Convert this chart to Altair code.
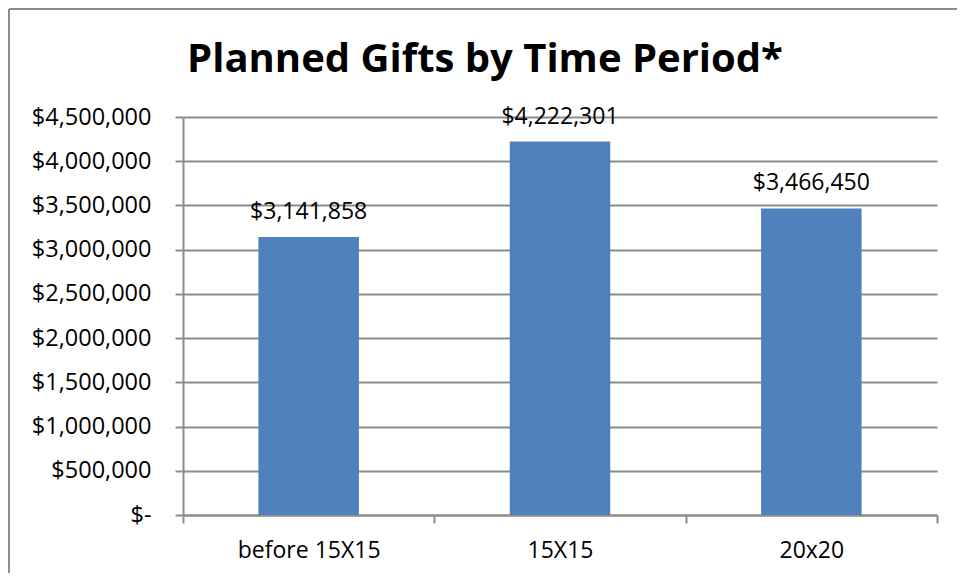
import altair as alt
import pandas as pd

categories = ["before 15X15", "15X15", "20x20"]
values = [3141858, 4222301, 3466450]
y_ticks = [0, 500000, 1000000, 1500000, 2000000, 2500000, 3000000, 3500000, 4000000, 4500000]
title_text = "Planned Gifts by Time Period*"

df = pd.DataFrame({"period": categories, "amount": values})
one = pd.DataFrame({"t": [title_text]})

FONT = "Open Sans"
GRAY = "#8c8c8c"

x_enc = alt.X(
    "period:N",
    sort=categories,
    title=None,
    scale=alt.Scale(paddingInner=0, paddingOuter=0),
    axis=alt.Axis(
        labelAngle=0,
        labelFont=FONT,
        labelFontSize=23,
        labelColor="#000000",
        labelPadding=16,
        tickBand="extent",
        tickSize=8,
        tickColor=GRAY,
        tickWidth=2,
        domainColor=GRAY,
        domainWidth=2,
        grid=False,
    ),
)

y_enc = alt.Y(
    "amount:Q",
    title=None,
    scale=alt.Scale(domain=[0, 4500000], nice=False),
    axis=alt.Axis(
        values=y_ticks,
        labelExpr="datum.value == 0 ? '$-' : format(datum.value, '$,.0f')",
        labelFont=FONT,
        labelFontSize=23.5,
        labelColor="#000000",
        labelPadding=24,
        tickSize=8,
        tickColor=GRAY,
        tickWidth=2,
        domainColor=GRAY,
        domainWidth=2,
        gridColor=GRAY,
        gridWidth=2,
    ),
)

base = alt.Chart(df)

bars = base.mark_bar(color="#4F81BD", width=alt.RelativeBandSize(0.4)).encode(x=x_enc, y=y_enc)

labels = base.mark_text(
    font=FONT, fontSize=23, color="#000000", baseline="bottom", dy=-13
).encode(
    x=alt.X("period:N", sort=categories),
    y="amount:Q",
    text=alt.Text("amount:Q", format="$,.0f"),
)

title = alt.Chart(one).mark_text(
    font=FONT, fontSize=40, fontWeight="bold", color="#000000",
    baseline="alphabetic", align="center", clip=False,
).encode(x=alt.value(302), y=alt.value(-45), text="t:N")

border_left = alt.Chart(one).mark_rule(color=GRAY, strokeWidth=2, clip=False).encode(
    x=alt.value(-174), y=alt.value(-108), y2=alt.value(470)
)
border_top = alt.Chart(one).mark_rule(color=GRAY, strokeWidth=2, clip=False).encode(
    x=alt.value(-174), x2=alt.value(800), y=alt.value(-108)
)

chart = (
    alt.layer(bars, labels, title, border_left, border_top)
    .properties(
        width=754,
        height=398,
        autosize=alt.AutoSizeParams(type="none"),
        padding={"left": 175, "top": 109, "right": 20, "bottom": 58},
    )
    .configure_view(stroke=None)
)

chart.save("out.html", embed_options={"renderer": "svg", "actions": False})
